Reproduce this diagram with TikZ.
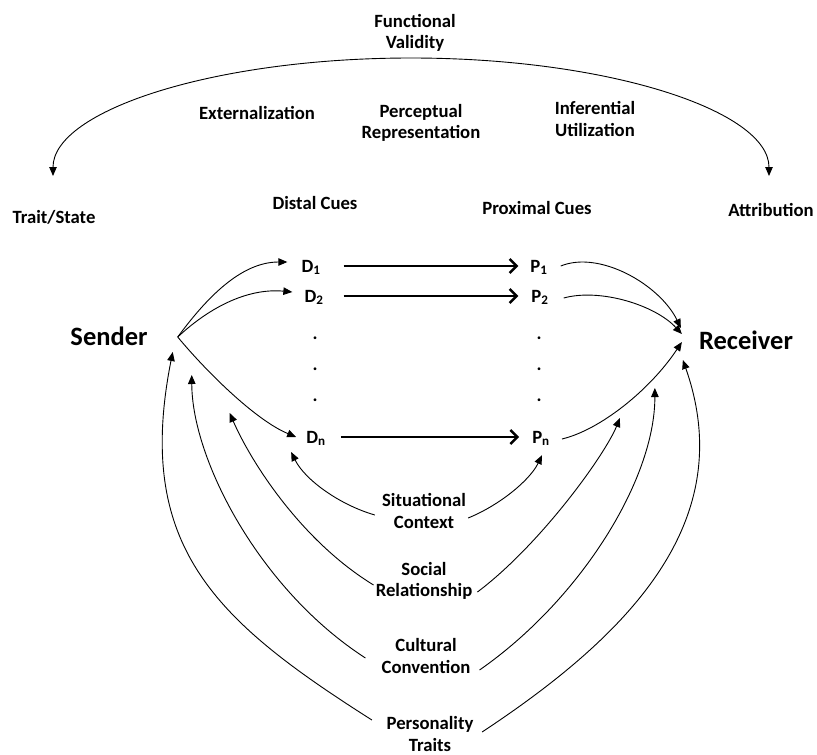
\documentclass[tikz,border=0pt]{standalone}
\usepackage{fontspec}
\setmainfont{Carlito}
\usetikzlibrary{arrows.meta,calc}
\begin{document}
\begin{tikzpicture}[x=1pt,y=-1pt,
  lbl/.style={font=\fontsize{18.7}{21.5}\selectfont\bfseries, align=center, inner sep=0pt},
  big/.style={font=\fontsize{26.5}{30}\selectfont\bfseries, inner sep=0pt},
  cue/.style={font=\fontsize{18.7}{21.5}\selectfont\bfseries, inner sep=0pt, text height=12pt, text depth=0pt},
  dotlbl/.style={font=\fontsize{18.7}{21.5}\selectfont\bfseries, inner sep=0pt, anchor=base},
  arr/.style={line width=0.9pt, -{Triangle[length=9pt,width=7.5pt]}},
  arrtwo/.style={line width=0.9pt, {Triangle[length=9pt,width=7.5pt]}-{Triangle[length=9pt,width=7.5pt]}},
  harr/.style={line width=2.4pt, -{Straight Barb[length=7pt,width=14pt]}}]
\useasboundingbox (0,0) rectangle (817,755);

% top labels
\node[lbl] (fv) at (415,33) {Functional\\Validity};
\node[lbl] (ext) at (257,113) {Externalization};
\node[lbl] (pr) at (421,123) {Perceptual\\Representation};
\node[lbl] (iu) at (595,119) {Inferential\\Utilization};
\node[lbl] (ts) at (54,217) {Trait/State};
\node[lbl] (dc) at (315,203) {Distal Cues};
\node[lbl] (pc) at (537,208) {Proximal Cues};
\node[lbl] (att) at (771,210) {Attribution};

\coordinate (arcL) at (53,176);
\coordinate (arcR) at (769,176);
\draw[arrtwo] (arcL) .. controls (53,110.8) and (213.3,58) .. (411,58)
  .. controls (608.7,58) and (769,110.8) .. (arcR);

% sender / receiver
\node[big] (sender) at (109,336) {Sender};
\node[big] (receiver) at (746,340) {Receiver};
\coordinate (sa) at ($(sender.east)+(30,1)$);
\coordinate (ra) at ($(receiver.west)+(-17,0)$);

% cues
\node[cue] (D1) at (311,266) {D\textsubscript{1}};
\node[cue] (D2) at (314,296) {D\textsubscript{2}};
\node[cue] (Dn) at (316,437) {D\textsubscript{n}};
\node[cue] (P1) at (539,266) {P\textsubscript{1}};
\node[cue] (P2) at (540,296) {P\textsubscript{2}};
\node[cue] (Pn) at (541,437) {P\textsubscript{n}};

\node[dotlbl] (dl1) at (315,339) {.};
\node[dotlbl] (dl2) at (315,370) {.};
\node[dotlbl] (dl3) at (315,401) {.};
\node[dotlbl] (dr1) at (539,339) {.};
\node[dotlbl] (dr2) at (539,370) {.};
\node[dotlbl] (dr3) at (539,401) {.};

\draw[harr, shorten <=23pt, shorten >=12pt] (D1) -- (P1);
\draw[harr, shorten <=20pt, shorten >=13pt] (D2) -- (P2);
\draw[harr, shorten <=15pt, shorten >=13pt] (Dn) -- (Pn);

% sender to distal cues
\draw[arr] (sa) .. controls (205,300) and (240,262) .. ($(D1.west)+(-14,-4)$);
\draw[arr] (sa) .. controls (212,305) and (250,288) .. ($(D2.west)+(-12,-4)$);
\draw[arr] (sa) .. controls (205,370) and (255,420) .. ($(Dn.west)+(-10,0)$);
% proximal cues to receiver
\draw[arr] ($(P1.east)+(13,0)$) .. controls (600,250) and (660,285) .. ($(ra)+(-1,-12)$);
\draw[arr] ($(P2.east)+(15,2)$) .. controls (600,288) and (655,305) .. ($(ra)+(0,-6)$);
\draw[arr] ($(Pn.east)+(12,2)$) .. controls (600,430) and (650,390) .. ($(ra)+(0,2)$);

% bottom labels
\node[lbl] (sit) at (424,511) {Situational\\Context};
\node[lbl] (soc) at (424,581) {Social\\Relationship};
\node[lbl] (cul) at (426,656) {Cultural\\Convention};
\node[lbl] (per) at (430,734) {Personality\\Traits};

\draw[arr] ($(sit.west)+(-7,4)$) .. controls (340,505) and (305,480) .. ($(Dn.west)+(-15,15)$);
\draw[arr] ($(sit.east)+(2,7)$) .. controls (500,505) and (530,480) .. ($(Pn.south)+(1,12)$);
\draw[arr] ($(soc.west)+(-2,4)$) .. controls (300,540) and (250,460) .. ($(sa)+(52,76)$);
\draw[arr] ($(soc.east)+(5,11)$) .. controls (540,545) and (605,455) .. ($(ra)+(-62,78)$);
\draw[arr] ($(cul.west)+(-16,2)$) .. controls (260,590) and (192,460) .. ($(sa)+(14,38)$);
\draw[arr] ($(cul.east)+(9,14)$) .. controls (580,600) and (655,480) .. ($(ra)+(-27,48)$);
\draw[arr] ($(per.west)+(-14.5,-14)$) .. controls (216,621) and (134,547) .. ($(sa)+(-5,15)$);
\draw[arr] ($(per.east)+(8.5,-2)$) .. controls (632,633) and (739,520) .. ($(ra)+(1,20)$);
\end{tikzpicture}
\end{document}
